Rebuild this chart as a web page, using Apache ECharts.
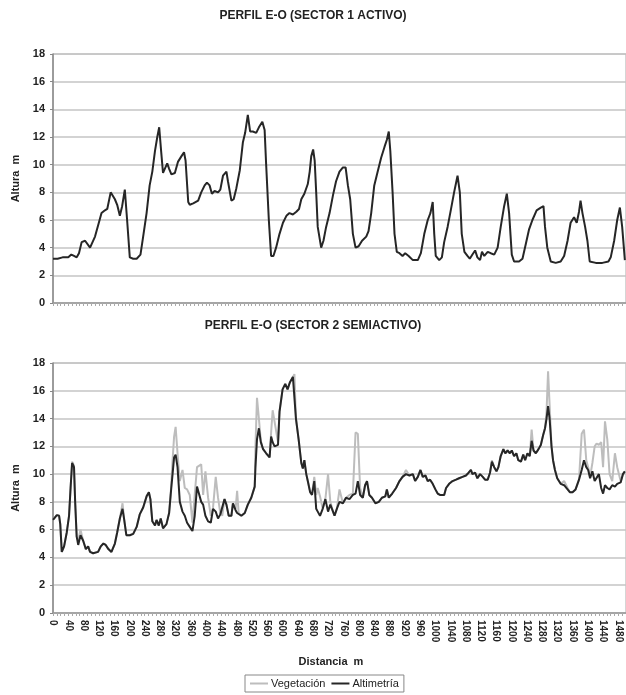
<!DOCTYPE html>
<html>
<head>
<meta charset="utf-8">
<title>Perfil E-O</title>
<script src="https://cdn.jsdelivr.net/npm/echarts@6/dist/echarts.min.js"></script>
<style>
  html, body { margin: 0; padding: 0; background: #fff; }
  #chart { width: 626px; height: 695px; }
</style>
</head>
<body>
<div id="chart"></div>
<script>
// Sector 1 (activo): distancia (m) y altura (m)
const dist1 = [
  0, 12, 25, 40, 48, 55, 62, 68, 75, 84, 97, 110, 118, 127, 136, 142, 151, 162, 168, 175,
  181, 188, 194, 201, 210, 219, 223, 229, 236, 245, 253, 260, 267, 273, 278, 283, 288, 293, 299, 304,
  310, 319, 327, 336, 343, 347, 354, 358, 367, 380, 388, 397, 403, 410, 416, 423, 432, 438, 445, 454,
  458, 467, 473, 480, 489, 497, 503, 510, 516, 523, 532, 539, 548, 554, 558, 565, 571, 577, 584, 593,
  602, 611, 619, 628, 637, 644, 650, 658, 667, 672, 676, 681, 685, 689, 693, 702, 708, 715, 724, 733,
  741, 750, 759, 766, 772, 778, 785, 792, 800, 809, 820, 826, 833, 841, 850, 859, 868, 874, 879, 883,
  889, 894, 900, 907, 915, 922, 931, 942, 955, 963, 972, 981, 988, 994, 998, 1002, 1011, 1018, 1024, 1033,
  1042, 1050, 1059, 1065, 1070, 1077, 1085, 1091, 1098, 1105, 1111, 1118, 1123, 1129, 1138, 1146, 1155, 1164, 1172, 1181,
  1188, 1194, 1201, 1207, 1220, 1229, 1238, 1246, 1255, 1266, 1277, 1284, 1288, 1294, 1303, 1316, 1329, 1338, 1347, 1355,
  1364, 1371, 1377, 1381, 1386, 1393, 1399, 1405, 1421, 1438, 1454, 1460, 1469, 1477, 1484, 1490, 1497
]
const alt1 = [
  3.2, 3.2, 3.3, 3.3, 3.5, 3.4, 3.3, 3.6, 4.4, 4.5, 4.0, 4.8, 5.6, 6.5, 6.7, 6.8, 8.0, 7.5, 7.1, 6.3,
  7.0, 8.2, 6.0, 3.3, 3.2, 3.2, 3.1, 3.5, 4.8, 6.5, 8.5, 9.5, 11.0, 12.0, 12.7, 11.0, 9.4, 9.5, 10.1, 9.7,
  9.3, 9.4, 10.2, 10.6, 10.9, 10.3, 7.3, 7.1, 7.2, 7.4, 8.0, 8.5, 8.7, 8.5, 7.9, 8.1, 8.0, 8.2, 9.2, 9.5,
  8.8, 7.4, 7.5, 8.3, 9.6, 11.6, 12.3, 13.6, 12.4, 12.4, 12.3, 12.7, 13.1, 12.5, 10.0, 6.0, 3.4, 3.4, 4.0, 5.0,
  5.8, 6.3, 6.5, 6.4, 6.6, 6.8, 7.5, 7.9, 8.6, 9.5, 10.6, 11.1, 10.3, 8.0, 5.5, 4.0, 4.5, 5.5, 6.5, 7.8,
  8.8, 9.5, 9.8, 9.8, 8.5, 7.5, 5.0, 4.0, 4.1, 4.5, 4.8, 5.2, 6.5, 8.5, 9.5, 10.5, 11.3, 11.8, 12.4, 11.0,
  8.0, 5.0, 3.7, 3.6, 3.4, 3.6, 3.4, 3.1, 3.1, 3.6, 5.0, 6.0, 6.5, 7.3, 5.0, 3.4, 3.1, 3.3, 4.4, 5.5,
  6.8, 8.0, 9.2, 8.0, 5.0, 3.7, 3.4, 3.2, 3.5, 3.8, 3.3, 3.1, 3.7, 3.4, 3.7, 3.6, 3.5, 4.0, 5.5, 7.0,
  7.9, 6.5, 3.5, 3.0, 3.0, 3.2, 4.3, 5.3, 6.0, 6.7, 6.9, 7.0, 5.5, 4.0, 3.0, 2.9, 3.0, 3.4, 4.5, 5.8,
  6.2, 5.8, 6.6, 7.4, 6.5, 5.5, 4.5, 3.0, 2.9, 2.9, 3.0, 3.3, 4.5, 6.0, 6.9, 5.5, 3.1
]

// Sector 2 (semiactivo): distancia (m), altimetría y vegetación (m)
const dist2 = [
  0, 3, 10, 16, 19, 23, 29, 36, 42, 46,
  50, 55, 58, 62, 66, 72, 79, 86, 92, 97,
  105, 118, 125, 132, 138, 145, 153, 162, 168, 175,
  182, 186, 192, 201, 210, 219, 227, 236, 245, 251,
  255, 260, 267, 271, 277, 282, 288, 297, 304, 308,
  313, 317, 321, 326, 332, 339, 345, 351, 358, 365,
  371, 377, 382, 388, 393, 399, 406, 413, 419, 426,
  432, 438, 443, 449, 454, 460, 467, 471, 478, 482,
  486, 493, 502, 510, 519, 528, 530, 534, 539, 544,
  550, 558, 567, 571, 575, 580, 589, 593, 601, 608,
  614, 620, 628, 632, 636, 643, 650, 654, 658, 663,
  667, 673, 678, 684, 689, 693, 699, 706, 713, 720,
  726, 733, 737, 743, 750, 759, 767, 776, 785, 792,
  798, 804, 811, 817, 822, 828, 835, 844, 853, 861,
  870, 874, 879, 888, 898, 907, 915, 924, 933, 942,
  948, 955, 962, 968, 975, 981, 987, 994, 1001, 1007,
  1013, 1018, 1024, 1029, 1037, 1046, 1055, 1063, 1072, 1081,
  1088, 1094, 1098, 1105, 1111, 1118, 1125, 1131, 1138, 1144,
  1149, 1155, 1161, 1166, 1172, 1179, 1184, 1190, 1196, 1201,
  1207, 1213, 1218, 1225, 1231, 1236, 1242, 1248, 1253, 1258,
  1264, 1271, 1277, 1283, 1288, 1292, 1296, 1300, 1305, 1309,
  1314, 1320, 1329, 1338, 1347, 1353, 1360, 1368, 1377, 1384,
  1390, 1396, 1401, 1406, 1412, 1418, 1423, 1429, 1435, 1440,
  1445, 1451, 1457, 1464, 1471, 1477, 1486, 1492, 1497
]
const alt2 = [
  6.7, 6.8, 7.05, 7.0, 6.4, 4.4, 4.8, 5.8, 7.0, 9.0,
  10.8, 10.5, 8.0, 5.5, 4.9, 5.6, 5.2, 4.6, 4.8, 4.4,
  4.3, 4.4, 4.8, 5.0, 4.9, 4.6, 4.4, 5.0, 5.8, 6.8,
  7.5, 6.8, 5.6, 5.6, 5.7, 6.2, 7.1, 7.6, 8.4, 8.7,
  8.2, 6.6, 6.3, 6.7, 6.3, 6.8, 6.1, 6.4, 7.2, 8.5,
  10.0, 11.2, 11.4, 10.5, 8.0, 7.3, 7.0, 6.5, 6.2, 5.9,
  7.0, 9.1, 8.6, 8.0, 7.8, 7.0, 6.6, 6.5, 7.5, 7.3,
  6.8, 7.1, 7.0, 8.2, 7.8, 7.0, 7.0, 7.9, 7.4, 7.2,
  7.1, 7.0, 7.2, 7.8, 8.3, 9.1, 10.5, 12.5, 13.3, 12.3,
  11.8, 11.5, 11.2, 12.7, 12.3, 12.0, 12.1, 14.5, 16.1, 16.5,
  16.1, 16.6, 17.0, 17.1, 14.0, 12.5, 10.8, 10.4, 11.0, 10.0,
  9.5, 8.7, 8.5, 9.5, 7.5, 7.3, 7.0, 7.5, 8.2, 7.3,
  7.8, 7.3, 7.0, 7.5, 8.0, 7.9, 8.3, 8.2, 8.5, 8.6,
  9.5, 8.5, 8.3, 9.2, 9.5, 8.5, 8.3, 7.9, 8.0, 8.3,
  8.4, 8.9, 8.3, 8.6, 9.0, 9.5, 9.8, 10.0, 9.9, 10.0,
  9.5, 9.8, 10.3, 9.8, 9.9, 9.5, 9.6, 9.3, 8.9, 8.6,
  8.5, 8.4, 8.5, 9.0, 9.3, 9.5, 9.6, 9.7, 9.8, 9.9,
  10.1, 10.3, 10.0, 10.1, 9.7, 10.0, 9.8, 9.6, 9.6, 10.1,
  10.9, 10.5, 10.2, 10.5, 11.3, 11.8, 11.5, 11.7, 11.5, 11.7,
  11.3, 11.5, 11.0, 10.9, 11.4, 11.0, 11.5, 11.3, 12.4, 11.7,
  11.5, 11.8, 12.1, 12.8, 13.3, 14.0, 14.9, 14.0, 12.0, 11.0,
  10.3, 9.7, 9.3, 9.2, 8.9, 8.7, 8.7, 8.9, 9.6, 10.3,
  11.0, 10.5, 10.3, 9.7, 10.2, 9.5, 9.5, 10.0, 9.0, 8.6,
  9.2, 9.0, 8.9, 9.2, 9.1, 9.3, 9.4, 10.0, 10.2
]
const veg2 = [
  6.7, 6.8, 7.05, 7.0, 6.4, 4.4, 4.8, 5.8, 7.0, 9.0,
  10.9, 10.6, 8.0, 5.5, 5.2, 6.0, 5.2, 4.6, 4.8, 4.4,
  4.3, 4.4, 4.8, 5.0, 4.9, 4.6, 4.4, 5.0, 5.8, 6.8,
  7.9, 6.8, 5.6, 5.6, 5.7, 6.2, 7.1, 7.6, 8.4, 8.7,
  8.2, 6.6, 6.3, 6.7, 6.3, 6.8, 6.1, 6.4, 7.2, 8.5,
  11.0, 12.7, 13.4, 11.5, 9.5, 10.3, 9.0, 8.9, 8.5, 6.5,
  8.5, 10.5, 10.6, 10.7, 8.5, 10.2, 8.3, 7.0, 7.6, 9.8,
  8.3, 7.2, 7.0, 8.2, 7.8, 7.0, 7.0, 7.9, 7.5, 8.8,
  7.2, 7.0, 7.2, 7.8, 8.3, 9.1, 12.0, 15.5, 14.0, 12.4,
  11.8, 11.5, 11.2, 13.0, 14.6, 14.7, 12.3, 14.5, 16.1, 16.5,
  16.1, 16.6, 17.0, 17.2, 14.0, 12.5, 10.8, 10.4, 11.0, 10.0,
  9.5, 8.8, 8.6, 9.8, 8.5, 9.0, 8.4, 7.5, 8.2, 10.0,
  8.0, 7.3, 7.0, 7.5, 8.9, 7.9, 8.3, 8.5, 8.6, 13.0,
  12.9, 9.0, 8.3, 9.2, 9.5, 8.5, 8.3, 7.9, 8.0, 8.3,
  8.4, 8.9, 8.3, 8.6, 9.0, 9.5, 9.8, 10.3, 9.9, 10.0,
  9.5, 9.8, 10.3, 9.8, 9.9, 9.5, 9.6, 9.3, 8.9, 8.6,
  8.5, 8.4, 8.5, 9.0, 9.3, 9.5, 9.6, 9.7, 9.8, 9.9,
  10.1, 10.3, 10.0, 10.1, 9.7, 10.0, 9.8, 9.6, 9.6, 10.1,
  11.0, 10.5, 10.2, 10.5, 11.3, 11.8, 11.5, 11.7, 11.5, 11.7,
  11.3, 11.5, 11.0, 10.9, 11.4, 11.0, 11.5, 11.3, 13.2, 11.7,
  11.5, 11.8, 12.1, 12.8, 13.3, 14.5, 17.4, 15.0, 12.0, 11.0,
  10.3, 9.7, 9.3, 9.5, 9.0, 8.7, 8.7, 8.9, 9.6, 12.9,
  13.2, 11.0, 10.5, 9.8, 10.8, 12.0, 12.2, 12.1, 12.3, 10.5,
  13.8, 12.5, 10.0, 9.5, 11.5, 10.5, 9.5, 10.0, 10.2
]

const pairs = (xs, ys) => xs.map((x, i) => [x, ys[i]])

const chart = echarts.init(document.getElementById('chart'))

const labelFont = { fontFamily: 'Liberation Sans, Arial, sans-serif', fontWeight: 'bold', color: '#222' }

function makeXAxis(index, showLabels) {
  return {
    type: 'value',
    gridIndex: index,
    min: 0,
    max: 1500,
    interval: 40,
    axisLine: { show: true, lineStyle: { color: '#999', width: 1.5 } },
    axisTick: { show: true, length: 3, lineStyle: { color: '#aaa' } },
    minorTick: { show: true, splitNumber: 4, length: 3, lineStyle: { color: '#aaa' } },
    splitLine: { show: false },
    axisLabel: {
      show: showLabels,
      rotate: -90,
      fontSize: 10,
      margin: 7,
      showMaxLabel: false,
      formatter: (v) => String(v),
      ...labelFont
    }
  }
}

function makeYAxis(index) {
  return {
    type: 'value',
    gridIndex: index,
    min: 0,
    max: 18,
    interval: 2,
    name: 'Altura  m',
    nameLocation: 'middle',
    nameGap: 30,
    nameTextStyle: { fontSize: 11, ...labelFont },
    axisLine: { show: true, lineStyle: { color: '#888', width: 1.5 } },
    axisTick: { show: true, length: 3, lineStyle: { color: '#888' } },
    splitLine: { show: true, lineStyle: { color: '#c4c4c4', width: 1.5 } },
    axisLabel: { fontSize: 11, margin: 8, ...labelFont }
  }
}

const option = {
  backgroundColor: '#fff',
  animation: false,
  title: [
    {
      text: 'PERFIL E-O (SECTOR 1 ACTIVO)',
      left: 'center',
      top: 5,
      textStyle: { fontSize: 12, ...labelFont }
    },
    {
      text: 'PERFIL E-O (SECTOR 2 SEMIACTIVO)',
      left: 'center',
      top: 315,
      textStyle: { fontSize: 12, ...labelFont }
    }
  ],
  graphic: [
    {
      type: 'text',
      x: 331,
      y: 662,
      style: {
        text: 'Distancia  m',
        align: 'center',
        verticalAlign: 'middle',
        font: 'bold 11px "Liberation Sans", Arial, sans-serif',
        fill: '#222'
      }
    }
  ],
  legend: {
    data: ['Vegetación', 'Altimetría'],
    left: 245,
    top: 675,
    icon: 'rect',
    itemWidth: 18,
    itemHeight: 2,
    itemGap: 6,
    padding: [3, 5],
    borderColor: '#888',
    borderWidth: 1,
    textStyle: { fontFamily: 'Liberation Sans, Arial, sans-serif', fontSize: 11, color: '#222', padding: [0, 0, 0, -2] }
  },
  grid: [
    { left: 53, right: -2, top: 54, height: 249, show: true, borderColor: '#aaa', borderWidth: 1 },
    { left: 53, right: -2, top: 363, height: 250, show: true, borderColor: '#aaa', borderWidth: 1 }
  ],
  xAxis: [makeXAxis(0, false), makeXAxis(1, true)],
  yAxis: [makeYAxis(0), makeYAxis(1)],
  series: [
    {
      name: 'Altimetría',
      type: 'line',
      xAxisIndex: 0,
      yAxisIndex: 0,
      symbol: 'none',
      lineStyle: { color: '#262626', width: 2 },
      itemStyle: { color: '#262626' },
      data: pairs(dist1, alt1)
    },
    {
      name: 'Vegetación',
      type: 'line',
      xAxisIndex: 1,
      yAxisIndex: 1,
      symbol: 'none',
      z: 2,
      lineStyle: { color: '#bdbdbd', width: 2 },
      itemStyle: { color: '#bdbdbd' },
      data: pairs(dist2, veg2)
    },
    {
      name: 'Altimetría',
      type: 'line',
      xAxisIndex: 1,
      yAxisIndex: 1,
      symbol: 'none',
      z: 3,
      lineStyle: { color: '#262626', width: 2 },
      itemStyle: { color: '#262626' },
      data: pairs(dist2, alt2)
    }
  ]
}

chart.setOption(option)
</script>
</body>
</html>
